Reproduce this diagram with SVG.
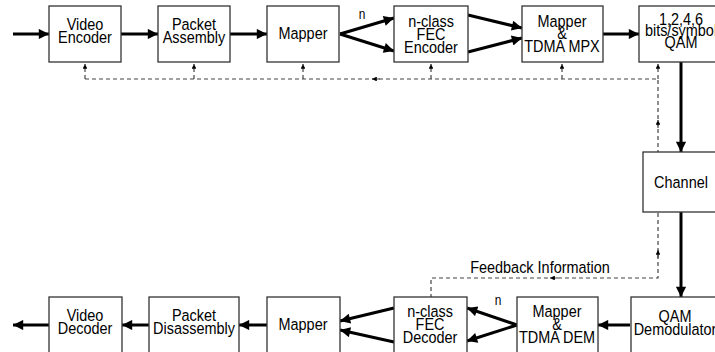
<svg xmlns="http://www.w3.org/2000/svg" width="715" height="352" viewBox="0 0 715 352">
<defs>
<style>
.box{fill:#fff;stroke:#333;stroke-width:1.3}
.t{font-family:"Liberation Sans",Arial,sans-serif;font-size:17px;fill:#000;text-anchor:middle}
.thick{stroke:#000;stroke-width:3;fill:none}
.dash{stroke:#444;stroke-width:1.2;stroke-dasharray:4,3;fill:none}
</style>
<marker id="ah" viewBox="0 0 10 10" refX="10" refY="5" markerWidth="4" markerHeight="3.4" markerUnits="strokeWidth" orient="auto">
<path d="M0,0 L10,5 L0,10 z" fill="#000"/>
</marker>
<marker id="sa" viewBox="0 0 10 10" refX="10" refY="5" markerWidth="5" markerHeight="4" markerUnits="strokeWidth" orient="auto">
<path d="M0,0 L10,5 L0,10 z" fill="#000"/>
</marker>
</defs>
<g id="connectors">
<line class="thick" x1="13" y1="34" x2="49" y2="34" marker-end="url(#ah)"/>
<line class="thick" x1="121" y1="34" x2="158" y2="34" marker-end="url(#ah)"/>
<line class="thick" x1="230" y1="34" x2="267" y2="34" marker-end="url(#ah)"/>
<line class="thick" x1="340" y1="34" x2="394" y2="18" marker-end="url(#ah)"/>
<line class="thick" x1="340" y1="34" x2="394" y2="51" marker-end="url(#ah)"/>
<line class="thick" x1="468" y1="15" x2="522" y2="28" marker-end="url(#ah)"/>
<line class="thick" x1="468" y1="52" x2="522" y2="38" marker-end="url(#ah)"/>
<line class="thick" x1="603" y1="34" x2="639" y2="34" marker-end="url(#ah)"/>
<line class="thick" x1="681" y1="62" x2="681" y2="152" marker-end="url(#ah)"/>
<line class="thick" x1="681" y1="212" x2="681" y2="297" marker-end="url(#ah)"/>
<line class="thick" x1="630" y1="325" x2="598" y2="325" marker-end="url(#ah)"/>
<line class="thick" x1="517" y1="325" x2="467" y2="308" marker-end="url(#ah)"/>
<line class="thick" x1="517" y1="325" x2="467" y2="341" marker-end="url(#ah)"/>
<line class="thick" x1="394" y1="308" x2="340" y2="321" marker-end="url(#ah)"/>
<line class="thick" x1="394" y1="342" x2="340" y2="330" marker-end="url(#ah)"/>
<line class="thick" x1="267" y1="325" x2="239" y2="325" marker-end="url(#ah)"/>
<line class="thick" x1="149" y1="325" x2="122" y2="325" marker-end="url(#ah)"/>
<line class="thick" x1="49" y1="325" x2="13" y2="325" marker-end="url(#ah)"/>
<path class="dash" d="M85,79 H658 V278 H431 V297"/>
<line class="dash" x1="85" y1="79" x2="85" y2="64" marker-end="url(#sa)"/>
<line class="dash" x1="194" y1="79" x2="194" y2="64" marker-end="url(#sa)"/>
<line class="dash" x1="303" y1="79" x2="303" y2="64" marker-end="url(#sa)"/>
<line class="dash" x1="431" y1="79" x2="431" y2="64" marker-end="url(#sa)"/>
<line class="dash" x1="562" y1="79" x2="562" y2="64" marker-end="url(#sa)"/>
<line class="dash" x1="658" y1="79" x2="658" y2="64" marker-end="url(#sa)"/>
<line class="dash" x1="380" y1="79" x2="372" y2="79" marker-end="url(#sa)"/>
<line class="dash" x1="658" y1="128" x2="658" y2="120" marker-end="url(#sa)"/>
<line class="dash" x1="658" y1="258" x2="658" y2="250" marker-end="url(#sa)"/>
<line class="dash" x1="558" y1="278" x2="550" y2="278" marker-end="url(#sa)"/>
</g>
<g transform="translate(362 0) scale(0.85 1)"><text class="t" x="0" y="19" style="font-size:14px">n</text></g>
<g transform="translate(498 0) scale(0.85 1)"><text class="t" x="0" y="305" style="font-size:14px">n</text></g>
<g transform="translate(540 0) scale(0.85 1)"><text class="t" x="0" y="273">Feedback Information</text></g>
<g id="video-encoder"><rect class="box" x="49" y="6" width="72" height="56"/><g transform="translate(85 0) scale(0.85 1)"><text class="t" x="0" y="30">Video</text><text class="t" x="0" y="43">Encoder</text></g></g>
<g id="packet-assembly"><rect class="box" x="158" y="6" width="72" height="56"/><g transform="translate(194 0) scale(0.85 1)"><text class="t" x="0" y="30">Packet</text><text class="t" x="0" y="43">Assembly</text></g></g>
<g id="mapper-tx"><rect class="box" x="267" y="6" width="72" height="56"/><g transform="translate(303 0) scale(0.85 1)"><text class="t" x="0" y="39">Mapper</text></g></g>
<g id="fec-encoder"><rect class="box" x="394" y="6" width="74" height="56"/><g transform="translate(431 0) scale(0.85 1)"><text class="t" x="0" y="27">n-class</text><text class="t" x="0" y="40">FEC</text><text class="t" x="0" y="53">Encoder</text></g></g>
<g id="mapper-tdma-mpx"><rect class="box" x="522" y="6" width="81" height="56"/><g transform="translate(562 0) scale(0.85 1)"><text class="t" x="0" y="27">Mapper</text><text class="t" x="0" y="39">&amp;</text><text class="t" x="0" y="52">TDMA MPX</text></g></g>
<g id="qam"><rect class="box" x="639" y="6" width="84" height="56"/><g transform="translate(681 0) scale(0.85 1)"><text class="t" x="0" y="25">1,2,4,6</text><text class="t" x="0" y="36">bits/symbol</text><text class="t" x="0" y="48">QAM</text></g></g>
<g id="channel"><rect class="box" x="643" y="152" width="80" height="60"/><g transform="translate(681 0) scale(0.85 1)"><text class="t" x="0" y="188">Channel</text></g></g>
<g id="qam-demodulator"><rect class="box" x="631" y="297" width="92" height="65"/><g transform="translate(675 0) scale(0.85 1)"><text class="t" x="0" y="322">QAM</text><text class="t" x="0" y="335">Demodulator</text></g></g>
<g id="mapper-tdma-dem"><rect class="box" x="517" y="297" width="81" height="65"/><g transform="translate(557 0) scale(0.85 1)"><text class="t" x="0" y="317">Mapper</text><text class="t" x="0" y="330">&amp;</text><text class="t" x="0" y="343">TDMA DEM</text></g></g>
<g id="fec-decoder"><rect class="box" x="394" y="297" width="73" height="65"/><g transform="translate(430 0) scale(0.85 1)"><text class="t" x="0" y="317">n-class</text><text class="t" x="0" y="330">FEC</text><text class="t" x="0" y="343">Decoder</text></g></g>
<g id="mapper-rx"><rect class="box" x="267" y="297" width="73" height="65"/><g transform="translate(303 0) scale(0.85 1)"><text class="t" x="0" y="330">Mapper</text></g></g>
<g id="packet-disassembly"><rect class="box" x="149" y="297" width="90" height="65"/><g transform="translate(194 0) scale(0.85 1)"><text class="t" x="0" y="321">Packet</text><text class="t" x="0" y="334">Disassembly</text></g></g>
<g id="video-decoder"><rect class="box" x="49" y="297" width="73" height="65"/><g transform="translate(85 0) scale(0.85 1)"><text class="t" x="0" y="321">Video</text><text class="t" x="0" y="334">Decoder</text></g></g>
</svg>
